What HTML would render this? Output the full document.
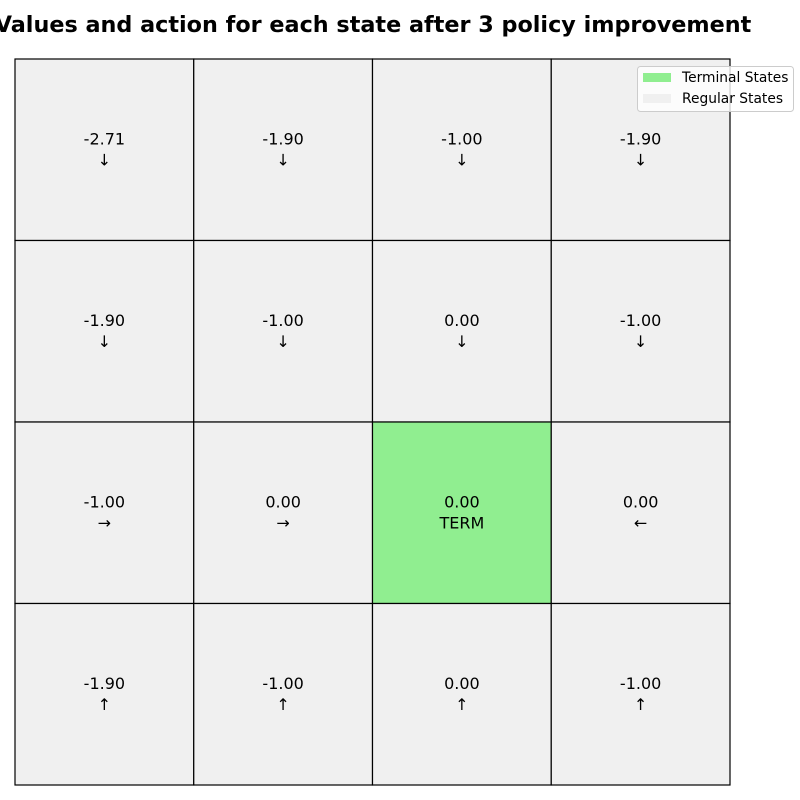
<!DOCTYPE html>
<html><head><meta charset="utf-8"><style>
body{margin:0;background:#fff;width:800px;height:800px;overflow:hidden}
svg{display:block}
text{font-family:"DejaVu Sans","Liberation Sans",sans-serif}
</style></head><body>
<svg id="chart" width="800" height="800">
<text x="373" y="32" text-anchor="middle" font-size="22.3" font-weight="bold">Values and action for each state after 3 policy improvement</text>
<g id="cells"></g>
<g>
<rect x="637.5" y="66.5" width="156" height="45" rx="3" fill="#fff" fill-opacity="0.8" stroke="#ccc"/>
<rect x="643" y="73" width="28" height="9" fill="#90ee90"/>
<text x="682" y="82" font-size="13.8">Terminal States</text>
<rect x="643" y="94" width="28" height="9" fill="#f0f0f0"/>
<text x="682" y="103" font-size="13.8">Regular States</text>
</g>
</svg>
<script>
const values = [[-2.71,-1.90,-1.00,-1.90],[-1.90,-1.00,0.00,-1.00],[-1.00,0.00,0.00,0.00],[-1.90,-1.00,0.00,-1.00]];
const actions = [["↓","↓","↓","↓"],["↓","↓","↓","↓"],["→","→","TERM","←"],["↑","↑","↑","↑"]];
const terminals = [[2,2]];
const x0=15,x1=730,y0=59,y1=785,n=4;
const cw=(x1-x0)/n,ch=(y1-y0)/n;
const g=document.getElementById('cells');
const NS='http://www.w3.org/2000/svg';
for(let r=0;r<n;r++)for(let c=0;c<n;c++){
 const term=terminals.some(t=>t[0]===r&&t[1]===c);
 const rect=document.createElementNS(NS,'rect');
 rect.setAttribute('x',x0+c*cw);rect.setAttribute('y',y0+r*ch);
 rect.setAttribute('width',cw);rect.setAttribute('height',ch);
 rect.setAttribute('fill',term?'#90ee90':'#f0f0f0');rect.setAttribute('stroke','#000');rect.setAttribute('stroke-width','1.2');
 
 
 g.appendChild(rect);
 const cx=x0+(c+0.5)*cw,cy=y0+(r+0.5)*ch;
 const t1=document.createElementNS(NS,'text');
 t1.setAttribute('x',cx);t1.setAttribute('y',cy-5.5);t1.setAttribute('text-anchor','middle');t1.setAttribute('font-size','16');
 t1.textContent=values[r][c].toFixed(2);
 
 
 g.appendChild(t1);
 const t2=document.createElementNS(NS,'text');
 t2.setAttribute('x',cx);t2.setAttribute('y',cy+15.5);t2.setAttribute('text-anchor','middle');t2.setAttribute('font-size','16');
 t2.textContent=actions[r][c];
 
 
 g.appendChild(t2);
}
</script>
</body></html>
